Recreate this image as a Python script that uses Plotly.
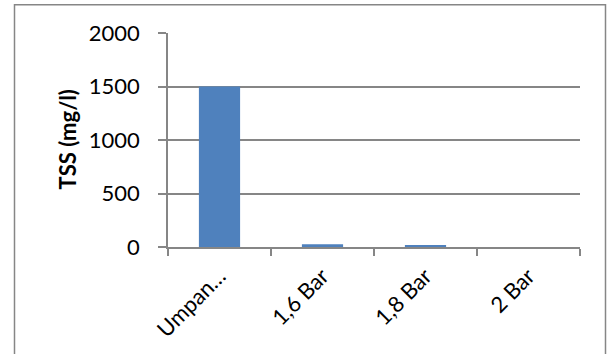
import plotly.graph_objects as go

# TSS per sample
categories = ["Umpan…", "1,6 Bar", "1,8 Bar", "2 Bar"]
tss_values = [1500, 25, 15, 0]
y_ticks = [0, 500, 1000, 1500, 2000]

W, H = 609, 354
L, R, T, B = 168, 29, 33, 105
pw, ph = W - L - R, H - T - B


def px_x(p):
    return (p - L) / pw


def px_y(p):
    return (H - B - p) / ph


grey = "#868686"
font = dict(family="Lato, Carlito, Noto Sans, sans-serif", size=22, color="#000000")

fig = go.Figure(
    go.Bar(
        x=categories,
        y=tss_values,
        marker=dict(color="#4F81BD", line=dict(width=0)),
        width=0.4,
    )
)

fig.update_layout(
    width=W,
    height=H,
    margin=dict(l=L, r=R, t=T, b=B),
    paper_bgcolor="white",
    plot_bgcolor="white",
    showlegend=False,
    font=font,
    xaxis=dict(
        type="category",
        range=[-0.5, 3.5],
        showline=True,
        linecolor=grey,
        linewidth=1.5,
        ticks="outside",
        tickson="boundaries",
        ticklen=7,
        tickcolor=grey,
        tickwidth=1.5,
        tickangle=-45,
        showgrid=False,
        tickfont=font,
        ticklabelstandoff=6,
    ),
    yaxis=dict(
        range=[0, 2000],
        tickvals=y_ticks,
        showline=True,
        linecolor=grey,
        linewidth=1.5,
        ticks="outside",
        ticklen=8,
        tickcolor=grey,
        tickwidth=1.5,
        showgrid=True,
        gridcolor=grey,
        gridwidth=1.5,
        zeroline=False,
        tickfont=font,
        ticklabelstandoff=14,
    ),
    annotations=[
        dict(
            text="<b>TSS (mg/l)</b>",
            x=px_x(66.5),
            y=0.5,
            xref="paper",
            yref="paper",
            xanchor="center",
            yanchor="middle",
            textangle=-90,
            showarrow=False,
            font=dict(family=font["family"], size=22, color="#000000"),
        )
    ],
    shapes=[
        dict(
            type="rect",
            xref="paper",
            yref="paper",
            x0=px_x(14.5),
            x1=px_x(605.5),
            y0=px_y(370),
            y1=px_y(4.5),
            line=dict(color=grey, width=1.5),
            fillcolor="rgba(0,0,0,0)",
            layer="below",
        )
    ],
)

fig.write_html("out.html")
